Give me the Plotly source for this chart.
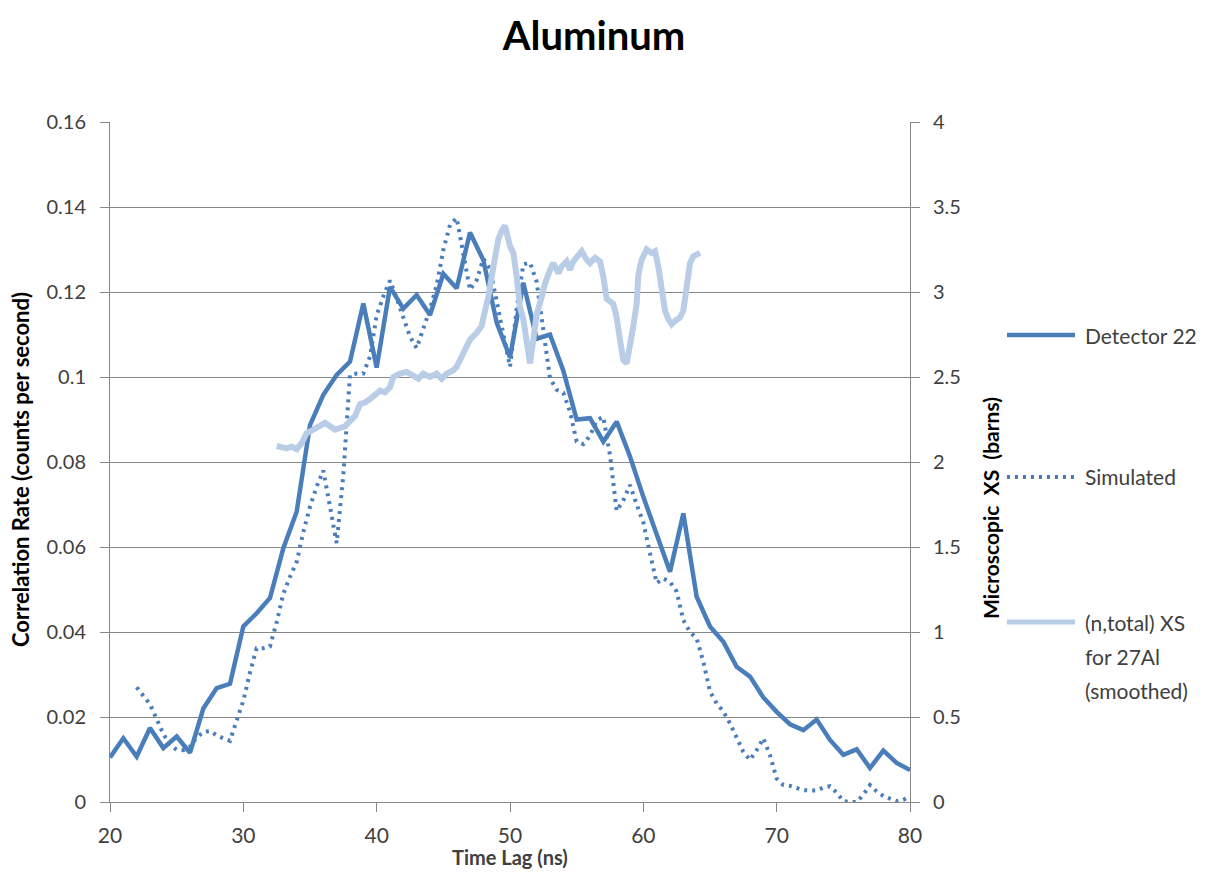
import plotly.graph_objects as go

# ---------------- data ----------------
det_t = list(range(20, 81))
det_v = [0.0105, 0.015, 0.0107, 0.0174, 0.0127, 0.0154, 0.0116, 0.022, 0.0268, 0.0278,
         0.0413, 0.0444, 0.048, 0.0597, 0.0683, 0.0887, 0.0958, 0.1005, 0.1036, 0.1173,
         0.1022, 0.1212, 0.1161, 0.1193, 0.1146, 0.1243, 0.1209, 0.134, 0.1275, 0.1128,
         0.1046, 0.1222, 0.109, 0.110, 0.1015, 0.090, 0.0903, 0.0848, 0.0895, 0.0813,
         0.0718, 0.0632, 0.0542, 0.0679, 0.0483, 0.0413, 0.0377, 0.0318, 0.0295, 0.0246,
         0.0212, 0.0183, 0.0169, 0.0194, 0.0146, 0.0111, 0.0124, 0.008, 0.0121, 0.0092,
         0.0075]

sim_t = [22.0, 22.5, 23.0, 23.5, 24.0, 24.5, 25.0, 25.5, 26.0, 26.5, 27.0, 27.5, 28.0, 28.5,
         29.0, 29.5, 30.0, 30.5, 31.0, 31.5, 32.0, 32.5, 33.0, 33.5, 34.0, 34.5, 35.0, 35.5,
         36.0, 36.5, 37.0, 37.5, 38.0, 38.5, 39.0, 39.5, 40.0, 40.5, 41.0, 41.5, 42.0, 42.5,
         43.0, 43.5, 44.0, 44.5, 45.0, 45.5, 46.0, 46.5, 47.0, 47.5, 48.0, 48.5, 49.0, 49.5,
         50.0, 50.5, 51.0, 51.5, 52.0, 52.5, 53.0, 53.5, 54.0, 54.5, 55.0, 55.5, 56.0, 56.5,
         57.0, 57.5, 58.0, 58.5, 59.0, 59.5, 60.0, 60.5, 61.0, 61.5, 62.0, 62.5, 63.0, 63.5,
         64.0, 64.5, 65.0, 65.5, 66.0, 66.5, 67.0, 67.5, 68.0, 68.5, 69.0, 69.5, 70.0, 70.5,
         71.0, 71.5, 72.0, 72.5, 73.0, 73.5, 74.0, 74.5, 75.0, 75.5, 76.0, 76.5, 77.0, 77.5,
         78.0, 78.5, 79.0, 79.5, 80.0]
sim_v = [0.027, 0.025, 0.023, 0.0195, 0.016, 0.0135, 0.0123, 0.0122, 0.013, 0.0152, 0.0165,
         0.0167, 0.0157, 0.015, 0.0144, 0.0192, 0.0238, 0.0305, 0.0362, 0.0362, 0.0366, 0.0423,
         0.049, 0.053, 0.0565, 0.0635, 0.0695, 0.0742, 0.078, 0.0695, 0.0609, 0.077, 0.1005,
         0.1008, 0.1008, 0.1048, 0.1145, 0.119, 0.1227, 0.1185, 0.114, 0.1095, 0.1068, 0.1115,
         0.116, 0.1216, 0.1299, 0.1358, 0.1374, 0.129, 0.1205, 0.1228, 0.1278, 0.1255, 0.1177,
         0.110, 0.1024, 0.116, 0.1265, 0.1269, 0.1224, 0.111, 0.0997, 0.097, 0.0963, 0.0918,
         0.0848, 0.0842, 0.0862, 0.0898, 0.0906, 0.0816, 0.0685, 0.071, 0.0746, 0.070, 0.0658,
         0.0585, 0.0515, 0.0526, 0.0518, 0.0495, 0.0428, 0.040, 0.0385, 0.033, 0.026, 0.0232,
         0.0213, 0.0185, 0.015, 0.0118, 0.0099, 0.0122, 0.015, 0.011, 0.0055, 0.004, 0.0038,
         0.0034, 0.0028, 0.0027, 0.0027, 0.0034, 0.0037, 0.0022, 0.0002, 0.0, 0.0, 0.0017,
         0.004, 0.0025, 0.0014, 0.0008, 0.0002, 0.0005, 0.0013]

xs_t = [32.5, 32.875, 33.25, 33.625, 34.0, 34.375, 34.75, 35.25, 35.75, 36.125, 36.5, 36.875,
        37.25, 37.625, 38.0, 38.375, 38.75, 39.125, 39.5, 39.875, 40.25, 40.625, 41.0, 41.25,
        41.75, 42.25, 42.75, 43.125, 43.5, 44.0, 44.5, 44.875, 45.25, 45.75, 46.0, 46.375,
        46.625, 47.0, 47.5, 47.875, 48.125, 48.375, 48.625, 48.875, 49.125, 49.375, 49.625,
        50.0, 50.25, 50.5, 50.75, 51.0, 51.25, 51.5, 51.75, 52.0, 52.375, 52.625, 53.0, 53.25,
        53.625, 53.875, 54.25, 54.5, 54.75, 55.125, 55.375, 55.75, 56.0, 56.375, 56.75, 57.0,
        57.25, 57.75, 58.0, 58.25, 58.5, 58.75, 59.0, 59.25, 59.5, 59.625, 59.875, 60.25,
        60.625, 60.875, 61.125, 61.375, 61.625, 61.875, 62.125, 62.375, 62.75, 63.0, 63.25,
        63.5, 63.75, 64.25]
xs_v = [2.094, 2.086, 2.08, 2.09, 2.075, 2.11, 2.17, 2.19, 2.21, 2.23, 2.21, 2.19, 2.2, 2.21,
        2.24, 2.27, 2.34, 2.35, 2.37, 2.40, 2.42, 2.41, 2.44, 2.50, 2.52, 2.53, 2.51, 2.49,
        2.52, 2.50, 2.52, 2.49, 2.52, 2.54, 2.56, 2.62, 2.67, 2.72, 2.76, 2.80, 2.89, 2.97,
        3.09, 3.21, 3.31, 3.36, 3.39, 3.27, 3.23, 3.09, 2.91, 2.84, 2.73, 2.58, 2.72, 2.87,
        2.97, 3.05, 3.13, 3.17, 3.11, 3.15, 3.18, 3.13, 3.18, 3.21, 3.24, 3.19, 3.17, 3.20,
        3.18, 3.09, 2.96, 2.93, 2.85, 2.72, 2.60, 2.58, 2.68, 2.80, 2.93, 3.10, 3.19, 3.25,
        3.23, 3.24, 3.15, 3.03, 2.89, 2.84, 2.81, 2.83, 2.85, 2.89, 3.03, 3.17, 3.21, 3.23]

x_ticks = [20, 30, 40, 50, 60, 70, 80]
names = ["Detector 22", "Simulated", "(n,total) XS for 27Al (smoothed)"]

BLUE = "#4a7ebb"
LIGHT = "#b9cde6"
GRID = "#878787"
TXT = "#404040"
FONT = "Lato"
DOT = "3px,5px"

# page offset: the html body has an 8px margin
OFF = 8
W, H = 1217 - 2 * OFF, 879 - 2 * OFF
L, T = 110 - OFF, 122 - OFF
PW, PH = 800, 680

fig = go.Figure()
fig.add_trace(go.Scatter(x=det_t, y=det_v, mode="lines", name=names[0],
                         line=dict(color=BLUE, width=4.5), showlegend=False))
fig.add_trace(go.Scatter(x=sim_t, y=sim_v, mode="lines", name=names[1],
                         line=dict(color=BLUE, width=4, dash=DOT), showlegend=False))
fig.add_trace(go.Scatter(x=xs_t, y=xs_v, mode="lines", name=names[2], yaxis="y2",
                         line=dict(color=LIGHT, width=6), showlegend=False))

axis_common = dict(showline=True, linecolor=GRID, linewidth=1, ticks="outside",
                   tickcolor=GRID, ticklen=9, zeroline=False)

fig.update_layout(
    width=W, height=H,
    margin=dict(l=L, r=W - L - PW, t=T, b=H - T - PH),
    paper_bgcolor="white", plot_bgcolor="white",
    font=dict(family=FONT, color=TXT),
    title=dict(text="<b>Aluminum</b>", x=(594 - OFF) / W, xref="container", xanchor="center",
               y=1 - (36 - OFF) / H, yref="container", yanchor="middle",
               font=dict(family=FONT, size=40, color="black")),
    xaxis=dict(range=[20, 80], tickvals=x_ticks, showgrid=False, ticklabelstandoff=6,
               tickfont=dict(family=FONT, size=21, color=TXT), **axis_common),
    yaxis=dict(range=[0, 0.16], dtick=0.02, showgrid=True, gridcolor=GRID, gridwidth=1,
               ticklabelstandoff=10, tickfont=dict(family=FONT, size=20, color=TXT),
               **axis_common),
    yaxis2=dict(range=[0, 4], dtick=0.5, overlaying="y", side="right", showgrid=False,
                ticklabelstandoff=9, tickfont=dict(family=FONT, size=20, color=TXT),
                **axis_common),
    showlegend=False,
)


def px_x(p):
    return (p - 110) / PW


def px_y(p):
    return (802 - p) / PH


# axis titles
fig.add_annotation(text="<b>Time Lag (ns)</b>", xref="paper", yref="paper", x=0.5,
                   y=px_y(857), showarrow=False, xanchor="center", yanchor="middle",
                   font=dict(family=FONT, size=20, color=TXT))
fig.add_annotation(text="<b>Correlation Rate (counts per second)</b>", xref="paper",
                   yref="paper", x=px_x(20), y=px_y(470), textangle=-90,
                   showarrow=False, xanchor="center", yanchor="middle",
                   font=dict(family=FONT, size=22, color="black"))
fig.add_annotation(text="<b>Microscopic  XS  (barns)</b>", xref="paper", yref="paper",
                   x=px_x(990), y=px_y(508), textangle=-90,
                   showarrow=False, xanchor="center", yanchor="middle",
                   font=dict(family=FONT, size=21, color="black"))

# custom legend
legend_rows = [(335, dict(color=BLUE, width=4.5), [names[0]]),
               (477, dict(color=BLUE, width=4, dash=DOT), [names[1]]),
               (622, dict(color=LIGHT, width=5), ["(n,total) XS", "for 27Al", "(smoothed)"])]
for ypx, ln, lines in legend_rows:
    fig.add_shape(type="line", xref="paper", yref="paper", x0=px_x(1007), x1=px_x(1075),
                  y0=px_y(ypx), y1=px_y(ypx), line=ln)
    for i, s in enumerate(lines):
        fig.add_annotation(text=s, xref="paper", yref="paper", x=px_x(1083),
                           y=px_y(ypx + 34 * i), showarrow=False, xanchor="left",
                           yanchor="middle", font=dict(family=FONT, size=21, color=TXT))

fig.write_html("out.html")
